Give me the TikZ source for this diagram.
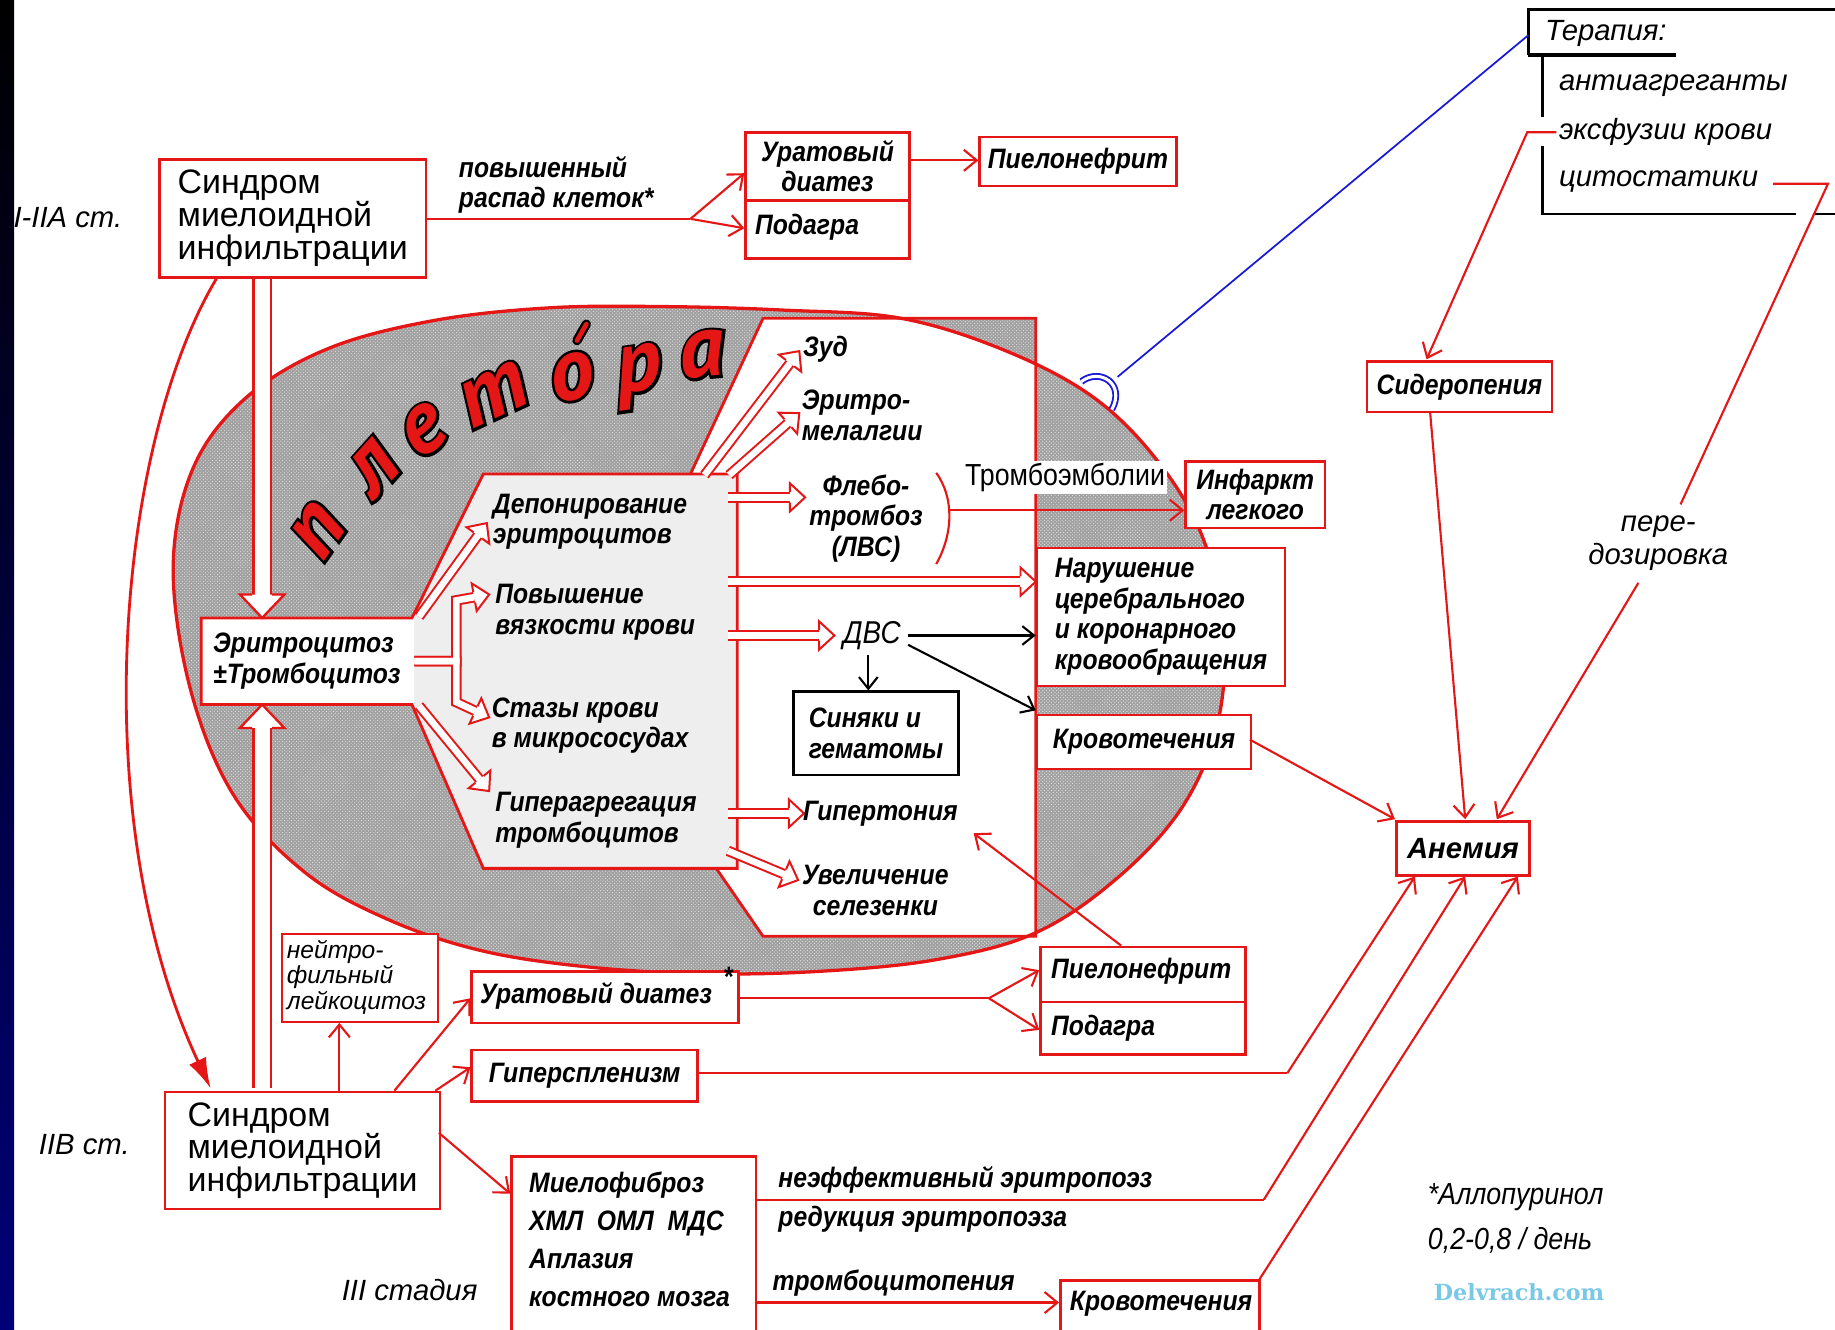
\documentclass[tikz,border=0pt]{standalone}
\usepackage{fontspec}
\setmainfont{Liberation Sans}
\newfontfamily\cnd[FakeStretch=0.88]{Liberation Sans}
\newfontfamily\ptf{PT Sans}
\newfontfamily\ptfb[BoldItalicFeatures={FakeBold=6}]{PT Sans}
\newfontfamily\dsf{DejaVu Serif}
\usetikzlibrary{arrows.meta,decorations.markings,patterns}
\definecolor{rd}{RGB}{228,22,22}
\definecolor{gfill}{RGB}{160,160,160}
\definecolor{lfill}{RGB}{238,238,238}
\definecolor{navy}{RGB}{0,0,120}
\definecolor{bl}{RGB}{25,25,215}
\definecolor{cy}{RGB}{120,200,230}
\newcommand\hhead{\fill[white] (0pt,0pt)--(-13pt,12pt)--(-13pt,-12pt)--cycle;
 \draw[rd,line width=1.7pt,line join=miter] (-13pt,4.5pt)--(-13pt,12pt)--(0pt,0pt)--(-13pt,-12pt)--(-13pt,-4.5pt);}
\newcommand\hheadB{\fill[white] (0pt,0pt)--(-20pt,19pt)--(-20pt,-19pt)--cycle;
 \draw[rd,line width=2pt,line join=miter] (-20pt,8.5pt)--(-20pt,19pt)--(0pt,0pt)--(-20pt,-19pt)--(-20pt,-8.5pt);}
\tikzset{
  rbox/.style={draw=rd, line width=2.2pt, fill=white, inner sep=0pt},
  kbox/.style={draw=black, line width=2.2pt, fill=white, inner sep=0pt},
  lab/.style={font=\cnd\bfseries\itshape\fontsize{24}{26}\selectfont, inner sep=0pt, align=left},
  ri/.style={font=\itshape\fontsize{25}{28}\selectfont, inner sep=0pt, align=left},
  syn/.style={font=\fontsize{29}{28}\selectfont, inner sep=0pt, align=left},
  pfontb/.style={font=\ptfb\bfseries\itshape\fontsize{76}{76}\selectfont, inner sep=0pt},
  pfont/.style={font=\ptf\bfseries\itshape\fontsize{76}{76}\selectfont, inner sep=0pt},
  ra/.style={draw=rd, line width=1.8pt, -{Straight Barb[length=11pt,width=18pt]}},
  rl/.style={draw=rd, line width=1.8pt},
  ka/.style={draw=black, line width=1.8pt, -{Straight Barb[length=10pt,width=16pt]}},
  hout/.style={draw=rd, line width=9pt, shorten >=13pt},
  hin/.style={draw=white, line width=5.6pt, shorten >=13pt},
  hhd/.style={draw=none, decoration={markings, mark=at position 1 with {\hhead}}, postaction={decorate}},
  hhdB/.style={draw=none, decoration={markings, mark=at position 1 with {\hheadB}}, postaction={decorate}},
}
\newcommand\rb[6][]{\node[rbox,anchor=north west,minimum width={#4-#2},minimum height={#5-#3},#1] (#6) at (#2,#3)}
\newcommand\plet[5]{%
  \node[pfontb, text=black, rotate=#4] (#1b) at (#2,#3) {#5};
  \node[pfont, text=rd, rotate=#4] (#1) at (#2,#3) {#5};}
\newcommand\hpaths[1]{%
 \draw[#1] (602,406) -- (683,300);
 \draw[#1] (623,406) -- (683,353);
 \draw[#1] (622,425) -- (688,425);
 \draw[#1] (622,497) -- (885,497);
 \draw[#1] (622,543) -- (713,543);
 \draw[#1] (622,695) -- (687,695);
 \draw[#1] (622,727) -- (682,752);
 \draw[#1] (358,527) -- (416,447);
 \draw[#1] (354,565) -- (390,565) -- (390,513) -- (418,508);
 \draw[#1] (354,565) -- (390,565) -- (390,600) -- (418,613);
 \draw[#1] (358,603) -- (418,676);
}
\def\ellp{plot[smooth cycle, tension=0.6] coordinates {(148,485) (165,400) (210,340) (280,298) (370,274) (470,263) (570,262) (670,265) (770,272) (860,300) (935,340) (990,395) (1028,460) (1046,540) (1040,620) (1010,690) (955,750) (885,797) (800,820) (700,830) (600,832) (500,826) (410,812) (330,785) (260,745) (200,680) (163,590)}}
\def\Pp{(590,405) -- (652,272) -- (885,272) -- (885,800) -- (652,800) -- (612,742) -- cycle}
\def\Hp{(172,528) -- (352,528) -- (413,405) -- (630,405) -- (630,742) -- (413,742) -- (352,602) -- (172,602) -- cycle}
\begin{document}
\begin{tikzpicture}[x=1pt,y=-1pt]
\useasboundingbox (0,0) rectangle (1568,1136);
\clip (0,0) rectangle (1568,1136);
\fill[white] (0,0) rectangle (1568,1136);
\shade[top color=black, bottom color=navy] (0,0) rectangle (12,1136);

% plethora region
\fill[gfill] \ellp;
\fill[pattern=crosshatch dots, pattern color=white!75!gfill] \ellp;
\fill[gfill] \Pp;
\fill[pattern=crosshatch dots, pattern color=white!75!gfill] \Pp;
\begin{scope}
  \clip \ellp;
  \fill[white] \Pp;
\end{scope}
\draw[rd, line width=2.4pt, line join=miter] \Pp;
\fill[lfill] \Hp;
\fill[white] (172,528) rectangle (354,602);
\draw[rd, line width=2.4pt, line join=miter] \Hp;
\draw[rd, line width=2.8pt] \ellp;

% word
\plet{l1}{272}{453}{55}{п}
\plet{l2}{320}{400}{48}{л}
\plet{l3}{362}{368}{35}{е}
\plet{l4}{422}{337}{25}{т}
\plet{l5}{489}{322}{12}{о}
\plet{l6}{547}{322}{8}{р}
\plet{l7}{600}{303}{5}{а}
\draw[black, line width=8pt, line cap=round] (493,291) -- (501,277);
\draw[rd, line width=4pt, line cap=round] (493,291) -- (501,277);

% hollow arrows
\hpaths{hout}
\hpaths{hin}
\hpaths{hhd}
\draw[rd, line width=17pt, shorten >=20pt] (224,238) -- (224,528);
\draw[rd, line width=17pt, shorten >=20pt] (224,930) -- (224,602);
\draw[white, line width=13pt, shorten >=20pt] (224,238) -- (224,528);
\draw[white, line width=13pt, shorten >=20pt] (224,930) -- (224,602);
\draw[hhdB] (224,238) -- (224,528);
\draw[hhdB] (224,930) -- (224,602);

% curved arrow
\draw[rd, line width=2.4pt, -{Latex[length=26pt,width=16pt]}] (185,238) .. controls (100,380) and (72,700) .. (180,930);

% stage labels
\node[ri, anchor=center] (st1) at (58,186) {I-IIA ст.};
\node[ri, anchor=center] (st2) at (72,978) {IIB ст.};
\node[ri, anchor=center] (st3) at (350,1102) {III стадия};

% top left
\rb[syn]{135}{135}{363}{236}{s1} {Синдром\\миелоидной\\инфильтрации};
\node[lab, anchor=west] (pov) at (392,158) {повышенный\\распад клеток*};
\draw[rl] (363,187) -- (590,187);
\draw[ra] (590,187) -- (636,148);
\draw[ra] (590,187) -- (636,195);
\rb[lab, align=center]{636}{112}{776}{170}{urat1} {Уратовый\\диатез};
\rb{636}{170}{776}{220}{pod1} {};
\node[lab, anchor=west] (pod1t) at (645,194) {Подагра};
\rb[lab]{836}{116}{1004}{158}{pie1} {Пиелонефрит};
\draw[ra] (776,137) -- (836,137);

% therapy
\draw[black, line width=2pt] (1306,47) -- (1306,8) -- (1570,8);
\draw[black, line width=3pt] (1306,47) -- (1432,47);
\draw[black, line width=2pt] (1318,47) -- (1318,100);
\draw[black, line width=2pt] (1318,125) -- (1318,183) -- (1535,183);
\draw[black, line width=2pt] (1549,183) -- (1570,183);
\node[ri, anchor=west] (ter) at (1320,29) {Терапия:};
\node[ri, anchor=west] (t1) at (1332,73) {антиагреганты};
\node[ri, anchor=west] (t2) at (1332,113) {эксфузии крови};
\node[ri, anchor=west] (t3) at (1332,155) {цитостатики};
\draw[bl, line width=1.5pt] (1306,30) -- (955,322);
\draw[bl, line width=1.6pt, double=white, double distance=2.6pt] (924,326) .. controls (940,314) and (962,328) .. (950,350);
\draw[ra] (1330,113) -- (1305,113) -- (1219,307);
\draw[rl] (1515,157) -- (1562,157) -- (1436,431);
\node[ri, align=center] (pere) at (1417,464) {пере-\\дозировка};
\rb[lab]{1167}{308}{1325}{351}{sid} {Сидеропения};
\rb[lab, font=\bfseries\itshape\fontsize{25}{26}\selectfont]{1192}{701}{1306}{747}{anem} {Анемия};
\draw[ra] (1222,352) -- (1252,700);
\draw[ra] (1400,498) -- (1279,700);

% inner labels
\node[lab, anchor=west] (ery) at (182,565) {Эритроцитоз\\±Тромбоцитоз};
\node[lab, anchor=west] (dep) at (421,446) {Депонирование\\эритроцитов};
\node[lab, anchor=west] (pov2) at (423,523) {Повышение\\вязкости крови};
\node[lab, anchor=west] (staz) at (420,620) {Стазы крови\\в микрососудах};
\node[lab, anchor=west] (gag) at (423,701) {Гиперагрегация\\тромбоцитов};
\node[lab, anchor=west] (zud) at (686,298) {Зуд};
\node[lab, anchor=west] (erm) at (685,355) {Эритро-\\мелалгии};
\node[lab, align=center] (fleb) at (740,443) {Флебо-\\тромбоз\\(ЛВС)};
\draw[rl] (800,404) .. controls (815,425) and (815,455) .. (800,482);
\node[font=\cnd\fontsize{26}{28}\selectfont, fill=white, inner sep=1.5pt] (trem) at (910,408) {Тромбоэмболии};
\rb[lab, align=center]{1012}{393}{1131}{450}{inf} {Инфаркт\\легкого};
\draw[ra] (812,436) -- (1012,436);
\rb[lab]{885}{467}{1097}{585}{nar} {Нарушение\\церебрального\\и коронарного\\кровообращения};
\node[font=\cnd\itshape\fontsize{27}{28}\selectfont, inner sep=0pt] (dvs) at (745,543) {ДВС};
\node[kbox, lab, anchor=north west, minimum width=141, minimum height=71] (sin) at (677,590) {Синяки и\\гематомы};
\draw[ka] (776,543) -- (885,543);
\draw[ka] (776,551) -- (885,607);
\draw[ka] (742,560) -- (742,590);
\rb[lab]{885}{610}{1068}{656}{krov1} {Кровотечения};
\draw[ra] (1068,632) -- (1192,700);
\node[lab, anchor=west] (gip) at (686,695) {Гипертония};
\node[lab, align=center] (sel) at (748,761) {Увеличение\\селезенки};

% bottom
\rb{240}{797}{373}{872}{neut} {};
\node[font=\itshape\fontsize{21}{22}\selectfont, inner sep=0pt, align=left, anchor=west] (neutt) at (245,835) {нейтро-\\фильный\\лейкоцитоз};
\rb{402}{829}{630}{873}{urat2} {};
\node[lab, anchor=west] (urat2t) at (410,851) {Уратовый диатез};
\node[lab] (star) at (622,835) {*};
\draw[rl] (630,853) -- (845,853);
\draw[ra] (845,853) -- (888,829);
\draw[ra] (845,853) -- (888,880);
\rb{888}{808}{1063}{855}{pie2} {};
\rb{888}{855}{1063}{900}{pod2} {};
\node[lab, anchor=west] (pie2t) at (898,830) {Пиелонефрит};
\node[lab, anchor=west] (pod2t) at (898,879) {Подагра};
\draw[ra] (958,808) -- (832,712);
\rb[lab]{402}{896}{595}{940}{hsp} {Гиперспленизм};
\draw[rl] (595,917) -- (1100,917);
\draw[ra] (1100,917) -- (1209,749);
\rb[syn]{140}{932}{375}{1032}{s2} {Синдром\\миелоидной\\инфильтрации};
\draw[ra] (290,932) -- (290,874);
\draw[ra] (337,932) -- (402,853);
\draw[ra] (372,932) -- (402,912);
\draw[ra] (375,968) -- (436,1020);
\rb{436}{987}{645}{1160}{mf} {};
\node[lab, font=\cnd\bfseries\itshape\fontsize{24}{32.5}\selectfont, anchor=west] (mft) at (452,1059) {Миелофиброз\\ХМЛ\ \ ОМЛ\ \ МДС\\Аплазия\\костного мозга};
\node[lab, anchor=west] (ne1) at (665,1008) {неэффективный эритропоэз};
\node[lab, anchor=west] (ne2) at (665,1042) {редукция эритропоэза};
\node[lab, anchor=west] (tcp) at (660,1096) {тромбоцитопения};
\draw[rl] (645,1025) -- (1080,1025);
\draw[ra] (1080,1025) -- (1252,749);
\rb[lab]{905}{1093}{1075}{1150}{krov2} {};
\node[lab, anchor=west] (krov2t) at (914,1114) {Кровотечения};
\draw[ra] (645,1113) -- (905,1113);
\draw[ra] (1075,1095) -- (1297,749);
\node[font=\cnd\itshape\fontsize{26}{38}\selectfont, inner sep=0pt, align=left, anchor=west] (allo) at (1220,1041) {*Аллопуринол\\0,2-0,8 / день};
\node[font=\dsf\bfseries\fontsize{19}{20}\selectfont, text=cy, inner sep=0pt] (wm) at (1298,1104) {Delvrach.com};
\end{tikzpicture}
\end{document}
